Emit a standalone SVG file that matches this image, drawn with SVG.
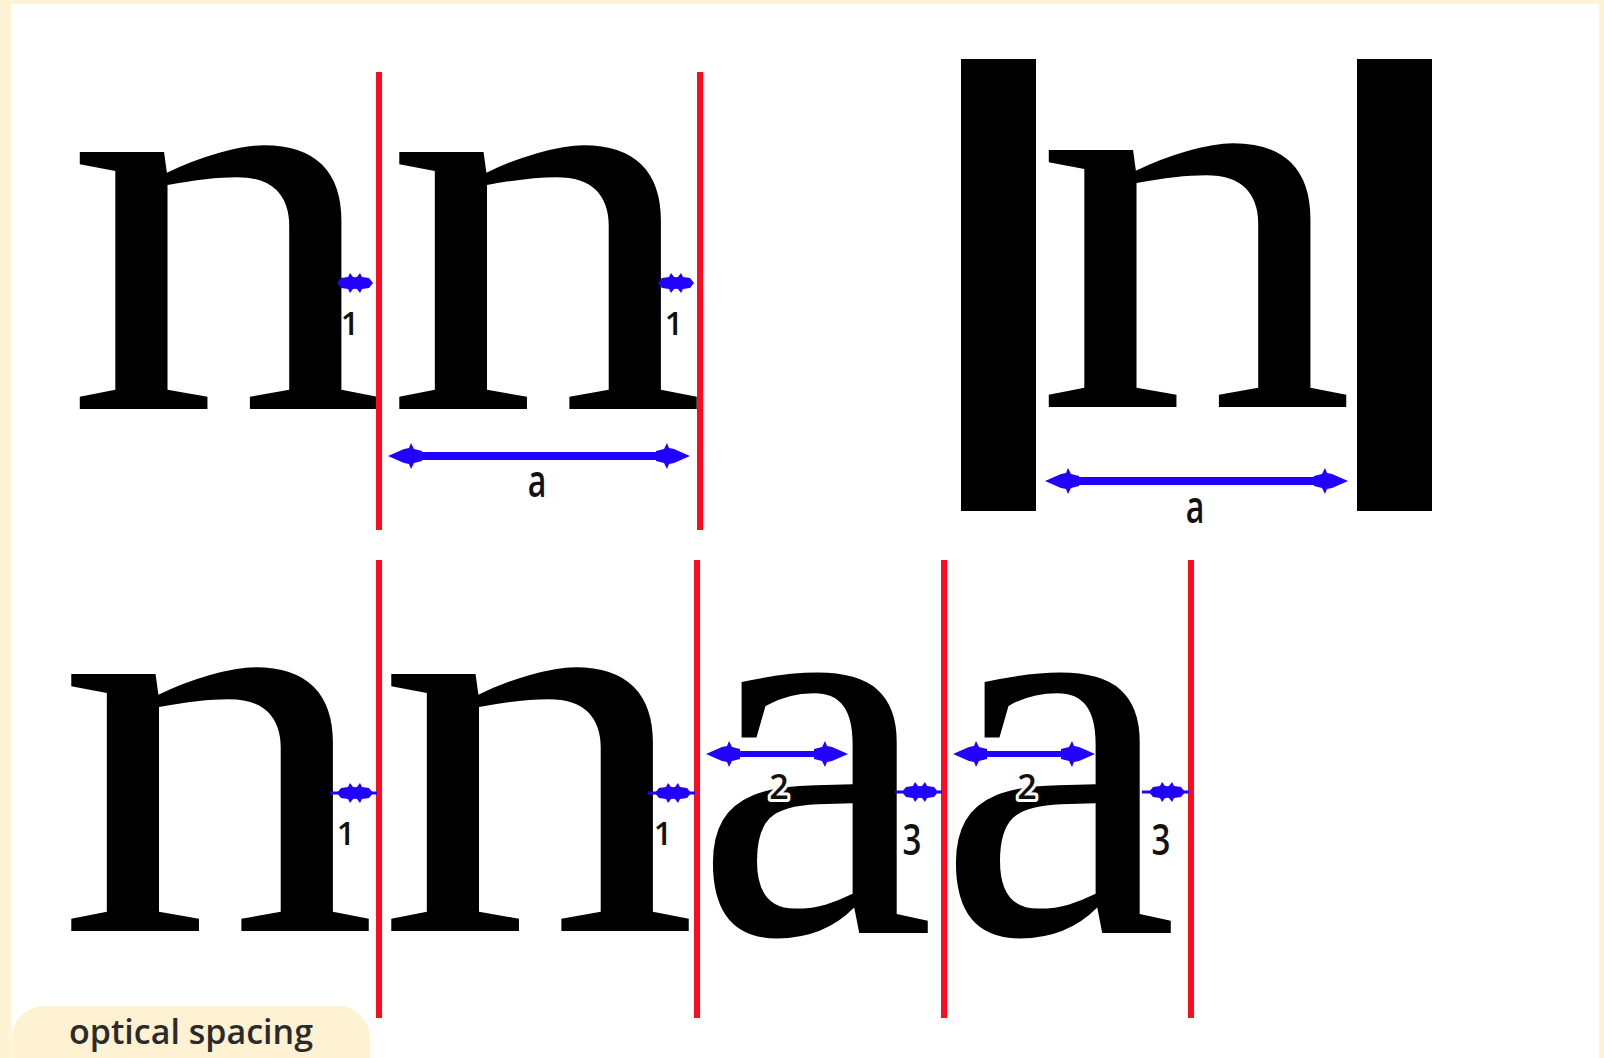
<svg xmlns="http://www.w3.org/2000/svg" width="1604" height="1058" viewBox="0 0 1604 1058">
  <style>
    .glyph { font-family: "Liberation Serif", "Times New Roman", serif; fill: #000; text-anchor: middle; }
    .num { font-family: "Open Sans", "DejaVu Sans", sans-serif; font-weight: 600; fill: #111; text-anchor: middle; }
    .halo { paint-order: stroke; stroke: #fff; stroke-width: 6; stroke-linejoin: round; }
    .red { stroke: #ff0a1e; stroke-width: 6; fill: none; }
    .blue { stroke: #2200ff; stroke-width: 8; fill: none; }
    .blue2 { stroke: #2200ff; stroke-width: 6; fill: none; }
    .blues { stroke: #2200ff; stroke-width: 8; fill: none; }
    .tail { stroke: #2200ff; stroke-width: 3; fill: none; }
    .title { font-family: "Open Sans", "DejaVu Sans", sans-serif; font-weight: 600; fill: #2b2b2b; text-anchor: middle; }
  </style>
  <defs>
    <marker id="ah" viewBox="-24 -14 38 28" refX="0" refY="0" markerWidth="38" markerHeight="28" markerUnits="userSpaceOnUse" orient="auto-start-reverse">
      <path d="M12,0 L-4,-7 L-9,-8 L-11,-13 L-14,-7 L-22,-5 L-22,5 L-14,7 L-11,13 L-9,8 L-4,7 Z" fill="#2200ff"/>
    </marker>
    <marker id="ahs" viewBox="-15 -11 24 22" refX="0" refY="0" markerWidth="24" markerHeight="22" markerUnits="userSpaceOnUse" orient="auto-start-reverse">
      <path d="M8,0 L4,-5 L-3,-6 L-5,-10 L-8,-6 L-13,-5 L-13,5 L-8,6 L-5,10 L-3,6 L4,5 Z" fill="#2200ff"/>
    </marker>
  </defs>

  <!-- frame -->
  <rect x="0" y="0" width="1604" height="1058" fill="#fff3d5"/>
  <rect x="11" y="4" width="1588" height="1054" fill="#ffffff"/>

  <!-- top row left: n n -->
  <g id="top-n1"><text class="glyph" font-size="560" transform="translate(226,409) scale(1.15,1)">n</text></g>
  <g id="top-n2"><text class="glyph" font-size="560" transform="translate(545.5,409) scale(1.15,1)">n</text></g>

  <!-- top row right: bars and n -->
  <g id="bar-left"><rect x="961" y="59" width="75" height="452" fill="#000"/></g>
  <g id="bar-right"><rect x="1357" y="59" width="75" height="452" fill="#000"/></g>
  <g id="top-n3"><text class="glyph" font-size="560" transform="translate(1195,407) scale(1.15,1)">n</text></g>

  <!-- bottom row: n n a a -->
  <g id="bot-n1"><text class="glyph" font-size="560" transform="translate(217.5,931) scale(1.15,1)">n</text></g>
  <g id="bot-n2"><text class="glyph" font-size="560" transform="translate(537.5,931) scale(1.15,1)">n</text></g>
  <g id="bot-a1"><text class="glyph" font-size="555" transform="translate(814.5,933) scale(0.98,1)">a</text></g>
  <g id="bot-a2"><text class="glyph" font-size="555" transform="translate(1057.5,933) scale(0.98,1)">a</text></g>

  <!-- connectors: red guide lines and blue measurement arrows -->
  <g id="connectors">
    <line class="red" x1="379" y1="72" x2="379" y2="530"/>
    <line class="red" x1="700" y1="72" x2="700" y2="530"/>
    <line class="red" x1="379" y1="560" x2="379" y2="1018"/>
    <line class="red" x1="697" y1="560" x2="697" y2="1018"/>
    <line class="red" x1="944" y1="560" x2="944" y2="1018"/>
    <line class="red" x1="1191" y1="560" x2="1191" y2="1018"/>

    <!-- top row -->
    <line class="blues" x1="345" y1="283" x2="365" y2="283" marker-start="url(#ahs)" marker-end="url(#ahs)"/>
    <line class="blues" x1="666" y1="283" x2="686" y2="283" marker-start="url(#ahs)" marker-end="url(#ahs)"/>
    <line class="blue" x1="400" y1="456" x2="678" y2="456" marker-start="url(#ah)" marker-end="url(#ah)"/>
    <line class="blue" x1="1057" y1="481" x2="1336" y2="481" marker-start="url(#ah)" marker-end="url(#ah)"/>

    <!-- bottom row -->
    <line class="tail" x1="330" y1="793" x2="377" y2="793"/>
    <line class="blues" x1="345" y1="793" x2="365" y2="793" marker-start="url(#ahs)" marker-end="url(#ahs)"/>
    <line class="tail" x1="648" y1="793" x2="695" y2="793"/>
    <line class="blues" x1="663" y1="793" x2="683" y2="793" marker-start="url(#ahs)" marker-end="url(#ahs)"/>
    <line class="blue2" x1="718" y1="754" x2="836" y2="754" marker-start="url(#ah)" marker-end="url(#ah)"/>
    <line class="tail" x1="895" y1="792" x2="942" y2="792"/>
    <line class="blues" x1="910" y1="792" x2="930" y2="792" marker-start="url(#ahs)" marker-end="url(#ahs)"/>
    <line class="blue2" x1="965" y1="754" x2="1083" y2="754" marker-start="url(#ah)" marker-end="url(#ah)"/>
    <line class="tail" x1="1142" y1="792" x2="1189" y2="792"/>
    <line class="blues" x1="1157" y1="792" x2="1177" y2="792" marker-start="url(#ahs)" marker-end="url(#ahs)"/>
  </g>

  <!-- measurement labels -->
  <g id="labels">
    <text class="num" font-size="32" x="350" y="335">1</text>
    <text class="num" font-size="32" x="674" y="335">1</text>
    <text class="num" font-size="46" transform="translate(537,497) scale(0.7,1)">a</text>
    <text class="num" font-size="46" transform="translate(1195,523) scale(0.7,1)">a</text>
    <text class="num" font-size="32" x="346" y="845">1</text>
    <text class="num" font-size="32" x="663" y="845">1</text>
    <text class="num halo" font-size="34" x="779" y="799">2</text>
    <text class="num halo" font-size="34" x="1027" y="799">2</text>
    <text class="num halo" font-size="44" font-weight="400" transform="translate(912,855) scale(0.75,1)">3</text>
    <text class="num halo" font-size="44" font-weight="400" transform="translate(1161,855) scale(0.75,1)">3</text>
  </g>

  <!-- caption -->
  <g id="caption">
    <rect x="12" y="1006" width="358" height="90" rx="32" fill="#fff2d3"/>
    <text class="title" font-size="34" x="191" y="1044">optical spacing</text>
  </g>
</svg>
